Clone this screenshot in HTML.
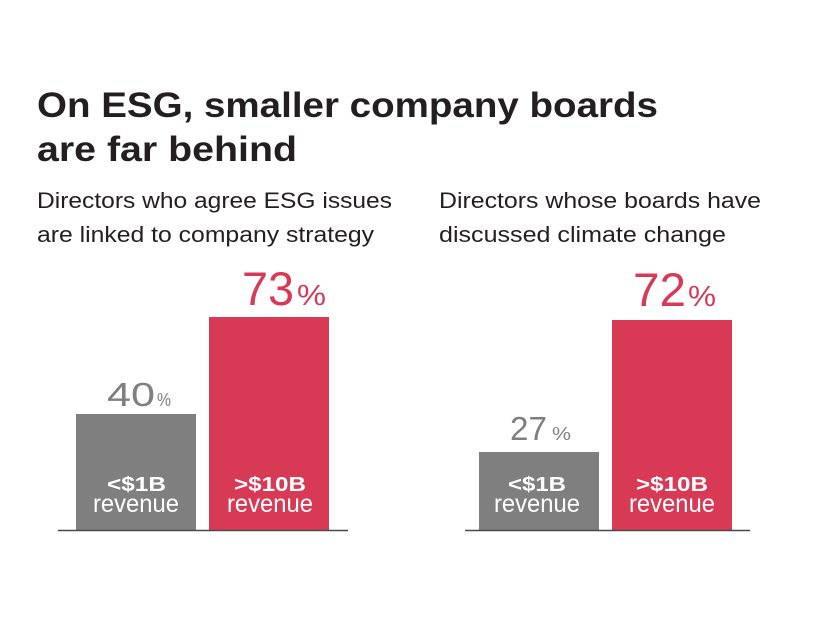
<!DOCTYPE html>
<html>
<head>
<meta charset="utf-8">
<style>
  html, body { margin: 0; padding: 0; background: #ffffff; }
  svg { display: block; }
  text { font-family: "Liberation Sans", "DejaVu Sans", sans-serif; }
</style>
</head>
<body>
<svg width="817" height="633" viewBox="0 0 817 633" xmlns="http://www.w3.org/2000/svg">
  <rect width="817" height="633" fill="#ffffff"/>

  <!-- Title -->
  <text x="37" y="117" font-size="35" font-weight="bold" fill="#231f20" textLength="621" lengthAdjust="spacingAndGlyphs">On ESG, smaller company boards</text>
  <text x="37" y="161" font-size="35" font-weight="bold" fill="#231f20" textLength="260" lengthAdjust="spacingAndGlyphs">are far behind</text>

  <!-- Subtitles -->
  <text x="37" y="208" font-size="22" fill="#231f20" textLength="355" lengthAdjust="spacingAndGlyphs">Directors who agree ESG issues</text>
  <text x="37" y="242" font-size="22" fill="#231f20" textLength="337" lengthAdjust="spacingAndGlyphs">are linked to company strategy</text>
  <text x="439" y="208" font-size="22" fill="#231f20" textLength="322" lengthAdjust="spacingAndGlyphs">Directors whose boards have</text>
  <text x="439" y="242" font-size="22" fill="#231f20" textLength="287" lengthAdjust="spacingAndGlyphs">discussed climate change</text>

  <!-- Left chart -->
  <rect x="76" y="414" width="120" height="116" fill="#7f7f7f"/>
  <rect x="209" y="317" width="120" height="213" fill="#d83a56"/>
  <line x1="58" y1="530.5" x2="348" y2="530.5" stroke="#4a4a4a" stroke-width="1.4"/>

  <text x="107" y="406" font-size="33" fill="#7f7f7f" textLength="48" lengthAdjust="spacingAndGlyphs">40</text>
  <text x="157" y="406" font-size="18" fill="#7f7f7f" textLength="14" lengthAdjust="spacingAndGlyphs">%</text>
  <text x="242" y="305" font-size="47" fill="#d83a56" textLength="52" lengthAdjust="spacingAndGlyphs">73</text>
  <text x="297" y="305" font-size="29" fill="#d83a56" textLength="29" lengthAdjust="spacingAndGlyphs">%</text>

  <text x="107" y="491" font-size="20" font-weight="bold" fill="#ffffff" textLength="59" lengthAdjust="spacingAndGlyphs">&lt;$1B</text>
  <text x="93" y="512" font-size="25" fill="#ffffff" textLength="86" lengthAdjust="spacingAndGlyphs">revenue</text>
  <text x="234" y="491" font-size="20" font-weight="bold" fill="#ffffff" textLength="72" lengthAdjust="spacingAndGlyphs">&gt;$10B</text>
  <text x="227" y="512" font-size="25" fill="#ffffff" textLength="86" lengthAdjust="spacingAndGlyphs">revenue</text>

  <!-- Right chart -->
  <rect x="479" y="452" width="120" height="78" fill="#7f7f7f"/>
  <rect x="612" y="320" width="120" height="210" fill="#d83a56"/>
  <line x1="465" y1="530.5" x2="750" y2="530.5" stroke="#4a4a4a" stroke-width="1.4"/>

  <text x="510" y="440" font-size="33" fill="#7f7f7f" textLength="37" lengthAdjust="spacingAndGlyphs">27</text>
  <text x="552" y="440" font-size="18" fill="#7f7f7f" textLength="19" lengthAdjust="spacingAndGlyphs">%</text>
  <text x="633" y="306" font-size="47" fill="#d83a56" textLength="53" lengthAdjust="spacingAndGlyphs">72</text>
  <text x="688" y="306" font-size="29" fill="#d83a56" textLength="28" lengthAdjust="spacingAndGlyphs">%</text>

  <text x="508" y="491" font-size="20" font-weight="bold" fill="#ffffff" textLength="58" lengthAdjust="spacingAndGlyphs">&lt;$1B</text>
  <text x="494" y="512" font-size="25" fill="#ffffff" textLength="86" lengthAdjust="spacingAndGlyphs">revenue</text>
  <text x="636" y="491" font-size="20" font-weight="bold" fill="#ffffff" textLength="72" lengthAdjust="spacingAndGlyphs">&gt;$10B</text>
  <text x="629" y="512" font-size="25" fill="#ffffff" textLength="86" lengthAdjust="spacingAndGlyphs">revenue</text>
</svg>
</body>
</html>
